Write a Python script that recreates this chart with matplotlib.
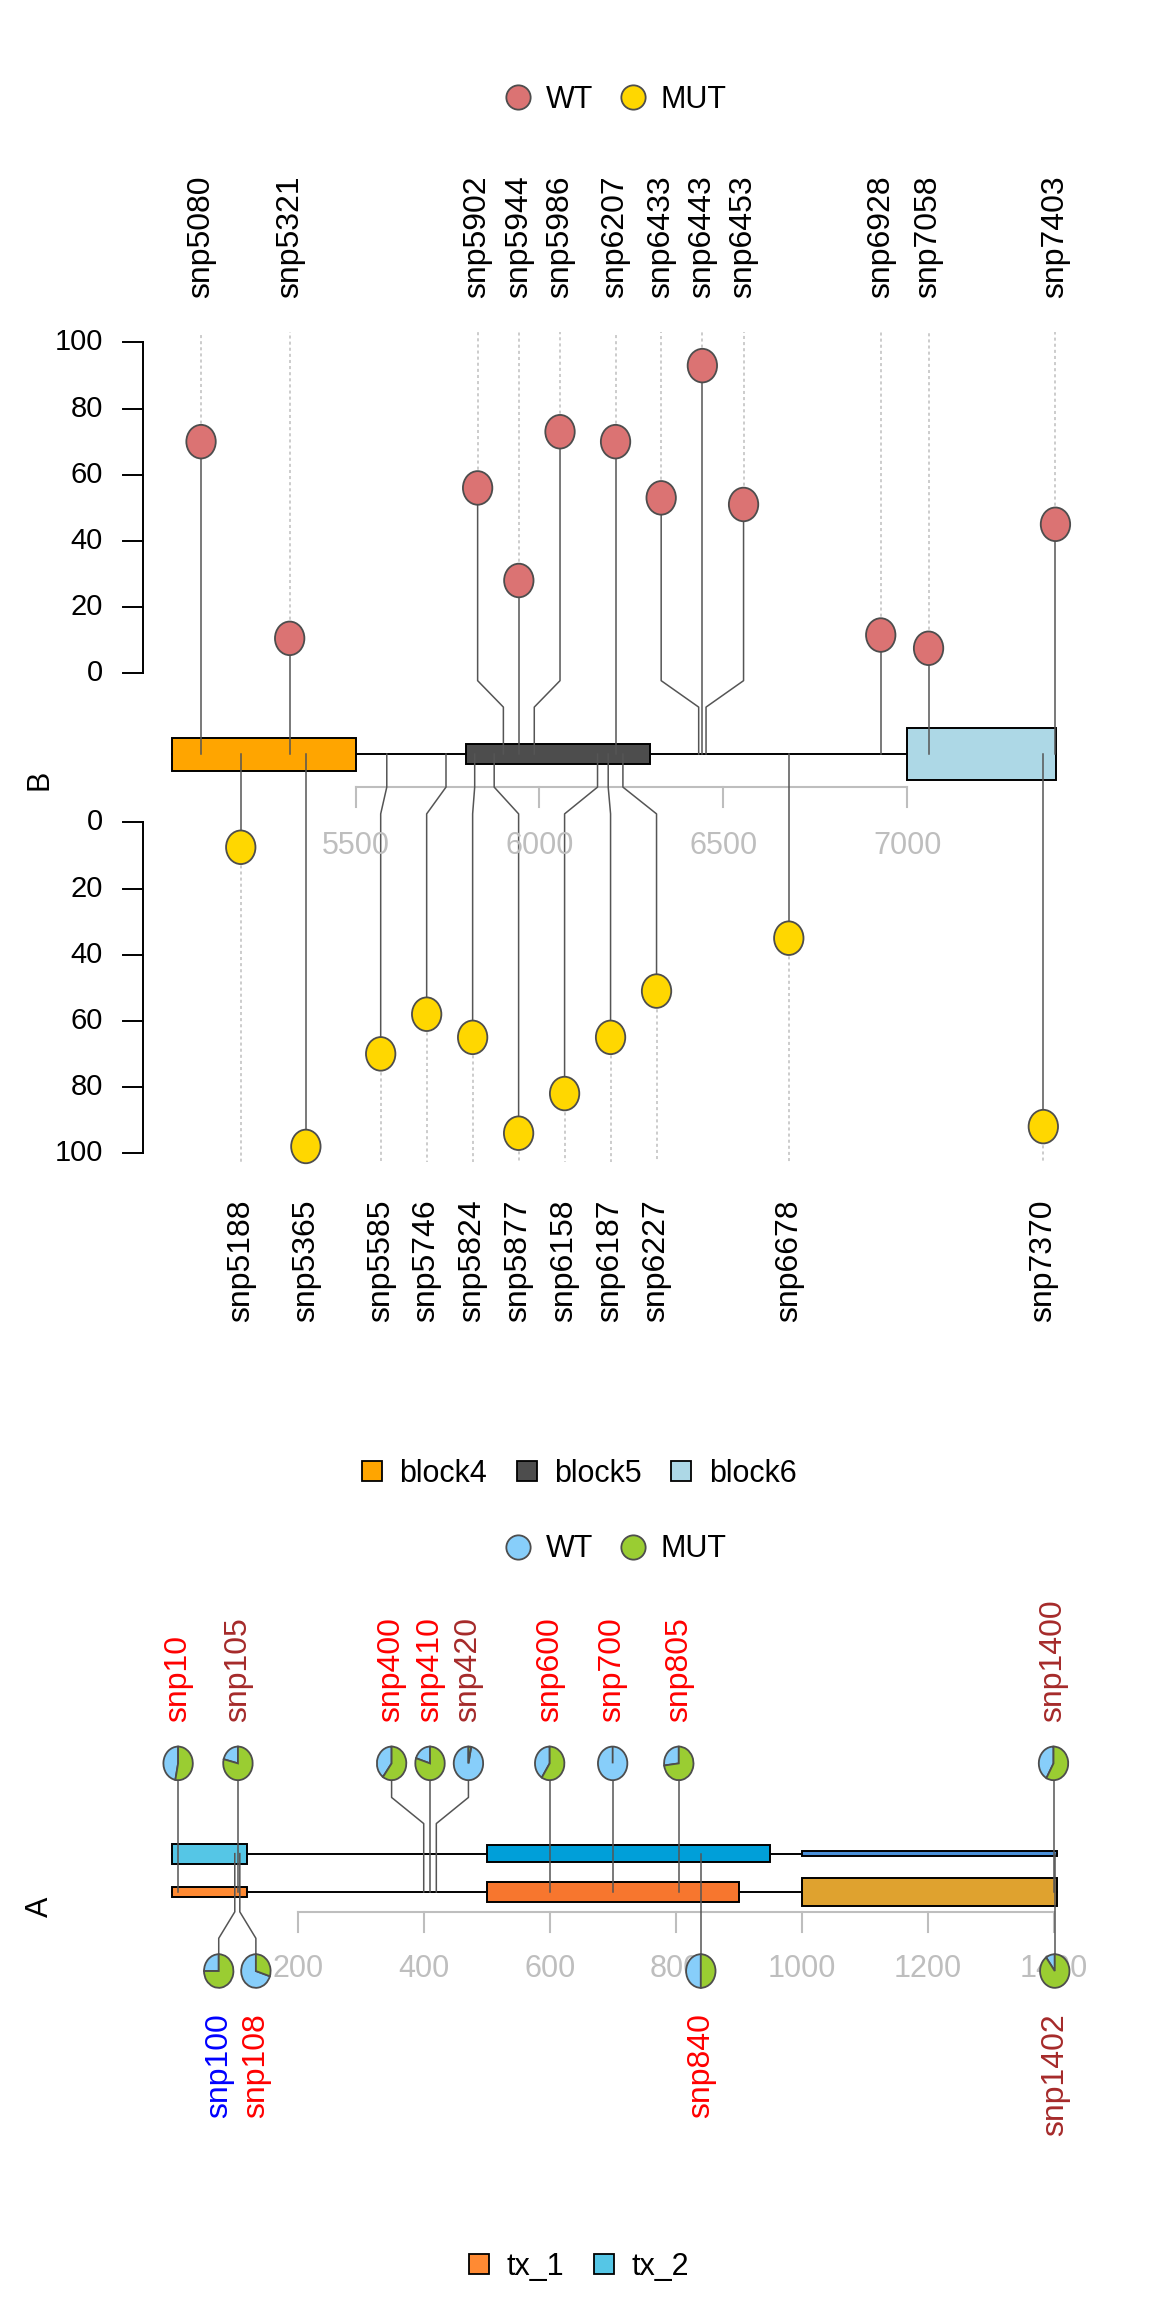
import matplotlib
matplotlib.use("Agg")
import matplotlib.pyplot as plt
from matplotlib.patches import Rectangle, Ellipse, Wedge
from matplotlib.lines import Line2D
from matplotlib.transforms import Affine2D, ScaledTranslation, blended_transform_factory

plt.rcParams['font.family'] = ['Liberation Sans', 'DejaVu Sans']

# ---------------- panel B : blocks + two lollipop tracks ----------------
b_blocks = ['block4', 'block5', 'block6']
b_block_start = [5000, 5800, 7000]
b_block_end = [5500, 6300, 7405]

wt_pos = [5080, 5321, 5902, 5944, 5986, 6207, 6433, 6443, 6453, 6928, 7058, 7403]
wt_val = [70, 10.5, 56, 28, 73, 70, 53, 93, 51, 11.5, 7.5, 45]

mut_pos = [5188, 5365, 5585, 5746, 5824, 5877, 6158, 6187, 6227, 6678, 7370]
mut_val = [7.5, 98, 70, 58, 65, 94, 82, 65, 51, 35, 92]

b_xticks = [5500, 6000, 6500, 7000]
b_yticks = [0, 20, 40, 60, 80, 100]

# ---------------- panel A : two transcripts + pie lollipops ----------------
tx_names = ['tx_1', 'tx_2']
tx1_start = [1, 500, 1000]
tx1_end = [120, 900, 1405]
tx2_start = [1, 500, 1000]
tx2_end = [120, 950, 1405]

a_up_pos = [10, 105, 400, 410, 420, 600, 700, 805, 1400]
a_up_wt = [47, 21, 40, 20, 97, 41, 100, 27, 42]
a_up_mut = [53, 79, 60, 80, 3, 59, 0, 73, 58]
a_up_lab_col = ['red', 'brown', 'red', 'red', 'brown', 'red', 'red', 'red', 'brown']

a_dn_pos = [100, 108, 840, 1402]
a_dn_wt = [25, 70, 50, 10]
a_dn_mut = [75, 30, 50, 90]
a_dn_lab_col = ['blue', 'red', 'red', 'brown']

a_xticks = [200, 400, 600, 800, 1000, 1200, 1400]

# ---------------- styles ----------------
block_col = ['#FFA500', '#4D4D4D', '#ADD8E6']
block_h = [10, 6, 16]
tx1_col = ['#FF8A33', '#F7762E', '#DFA22F']
tx1_h = [3.2, 6.0, 8.5]
tx2_col = ['#55C6E6', '#009FD9', '#4A90D9']
tx2_h = [6.1, 5.0, 1.7]
WT_B, MUT_B = '#DB7373', '#FFD700'
WT_A, MUT_A = '#87CEFA', '#9ACD32'
STEM = '#555555'
EDGE = '#4D4D4D'
AXGRAY = '#BEBEBE'
FS = 22
LAB_FS = 23
RX, RY = 14.7, 16.8   # lollipop head half-width / half-height in pixels


def spread(pos, gap):
    # push overlapping labels apart, each cluster centred on its mean
    groups = [[p] for p in pos]

    def place(g):
        m = sum(g) / len(g)
        return [m + (i - (len(g) - 1) / 2) * gap for i in range(len(g))]

    merged = True
    while merged:
        merged = False
        for i in range(len(groups) - 1):
            if place(groups[i])[-1] + gap > place(groups[i + 1])[0]:
                groups[i] += groups.pop(i + 1)
                merged = True
                break
    out = []
    for g in groups:
        out += place(g)
    return out


def head(ax, x, y, color):
    ax.add_patch(Ellipse((0, 0), 2 * RX, 2 * RY, facecolor=color, edgecolor=EDGE,
                         lw=1.3, zorder=5, transform=ScaledTranslation(x, y, ax.transData)))


def pie(ax, x, y, wt, mut):
    tr = Affine2D().scale(RX, RY) + ScaledTranslation(x, y, ax.transData)
    a = 90 + 360 * wt / (wt + mut)
    ax.add_patch(Wedge((0, 0), 1, 90, a, facecolor=WT_A, edgecolor=EDGE, lw=1.3,
                       zorder=5, transform=tr))
    ax.add_patch(Wedge((0, 0), 1, a, 450, facecolor=MUT_A, edgecolor=EDGE, lw=1.3,
                       zorder=5, transform=tr))


fig = plt.figure(figsize=(11.52, 23.04), dpi=100)

# ===================== panel B =====================
axB = fig.add_axes([0, 1 - 1400 / 2304, 1, 1400 / 2304])
axB.set_xlim(4533.4, 7665.5)
axB.set_ylim(-195.4, 228.1)
axB.axis('off')

top0, bot0 = 24.5, -20.7   # value 0 of the upper / lower track

axB.plot([b_block_start[0], b_block_end[-1]], [0, 0], color='black', lw=1.4, zorder=1)
for s, e, c, h in zip(b_block_start, b_block_end, block_col, block_h):
    axB.add_patch(Rectangle((s, -h / 2), e - s, h, facecolor=c, edgecolor='black',
                            lw=1.4, zorder=2))

# upper track (WT)
lx = spread(wt_pos, 112)
for g, x, v in zip(wt_pos, lx, wt_val):
    y = top0 + v
    axB.plot([g, g, x, x], [0, 14.2, 22.2, y], color=STEM, lw=1.1, zorder=3)
    axB.plot([x, x], [y, 127.6], color=AXGRAY, lw=1.1, ls=(0, (2, 2)), zorder=1)
    head(axB, x, y, WT_B)
    axB.text(x, 138.1, f"snp{g}", rotation=90, ha='center', va='bottom', fontsize=LAB_FS)

# lower track (MUT)
lx = spread(mut_pos, 125)
for g, x, v in zip(mut_pos, lx, mut_val):
    y = bot0 - v
    axB.plot([g, g, x, x], [0, -10, -18.1, y], color=STEM, lw=1.1, zorder=3)
    axB.plot([x, x], [y, -123.4], color=AXGRAY, lw=1.1, ls=(0, (2, 2)), zorder=1)
    head(axB, x, y, MUT_B)
    axB.text(x, -134.8, f"snp{g}", rotation=90, ha='center', va='top', fontsize=LAB_FS)

# genomic axis
axB.plot([b_xticks[0], b_xticks[-1]], [-10, -10], color=AXGRAY, lw=1.5, zorder=0)
for t in b_xticks:
    axB.plot([t, t], [-10, -16], color=AXGRAY, lw=1.5, zorder=0)
    axB.text(t, -27.7, str(t), color=AXGRAY, ha='center', va='center', fontsize=FS)

# score axes
trB = blended_transform_factory(axB.transAxes, axB.transData)
ax_x, tick_len, lab_x = 143 / 1152, 20 / 1152, 103 / 1152
for base, sign in [(top0, 1), (bot0, -1)]:
    axB.plot([ax_x, ax_x], [base, base + sign * 100], color='black', lw=1.4,
             transform=trB, clip_on=False)
    for t in b_yticks:
        yy = base + sign * t
        axB.plot([ax_x - tick_len, ax_x], [yy, yy], color='black', lw=1.4, transform=trB)
        axB.text(lab_x, yy, str(t), transform=trB, ha='right', va='center', fontsize=21)
axB.text(40 / 1152, -7.9, 'B', transform=trB, rotation=90, ha='center', va='center',
         fontsize=FS)

# ===================== panel A =====================
axA = fig.add_axes([0, 0, 1, 904 / 2304])
axA.set_xlim(-272.8, 1556.4)
axA.set_ylim(-124.6, 148.8)
axA.axis('off')

tx1_y, tx2_y = 0, 11.6
for starts, ends, cols, hs, ty in [(tx1_start, tx1_end, tx1_col, tx1_h, tx1_y),
                                   (tx2_start, tx2_end, tx2_col, tx2_h, tx2_y)]:
    axA.plot([starts[0], ends[-1]], [ty, ty], color='black', lw=1.4, zorder=1)
    for s, e, c, h in zip(starts, ends, cols, hs):
        axA.add_patch(Rectangle((s, ty - h / 2), e - s, h, facecolor=c, edgecolor='black',
                                lw=1.4, zorder=2))

lx = spread(a_up_pos, 61)
for g, x, w, m, c in zip(a_up_pos, lx, a_up_wt, a_up_mut, a_up_lab_col):
    axA.plot([g, g, x, x], [tx1_y, 20.7, 28.6, 38.9], color=STEM, lw=1.1, zorder=3)
    pie(axA, x, 38.9, w, m)
    axA.text(x, 51.3, f"snp{g}", rotation=90, ha='center', va='bottom', fontsize=LAB_FS,
             color=c)

lx = spread(a_dn_pos, 59)
for g, x, w, m, c in zip(a_dn_pos, lx, a_dn_wt, a_dn_mut, a_dn_lab_col):
    axA.plot([g, g, x, x], [tx2_y, -6.0, -14.0, -23.9], color=STEM, lw=1.1, zorder=3)
    pie(axA, x, -23.9, w, m)
    axA.text(x, -36.7, f"snp{g}", rotation=90, ha='center', va='top', fontsize=LAB_FS,
             color=c)

axA.plot([a_xticks[0], a_xticks[-1]], [-6, -6], color=AXGRAY, lw=1.5, zorder=0)
for t in a_xticks:
    axA.plot([t, t], [-6, -12], color=AXGRAY, lw=1.5, zorder=0)
    axA.text(t, -23.3, str(t), color=AXGRAY, ha='center', va='center', fontsize=FS,
             zorder=1)
trA = blended_transform_factory(axA.transAxes, axA.transData)
axA.text(40 / 1152, -4.5, 'A', transform=trA, rotation=90, ha='center', va='center',
         fontsize=FS)

# ===================== legends =====================
leg_kw = dict(loc='center', frameon=False, fontsize=FS, handlelength=0.8,
              handletextpad=0.5, columnspacing=0.9, borderpad=0)


def dots(cols):
    return [Line2D([], [], ls='', marker='o', markersize=17.5, markerfacecolor=c,
                   markeredgecolor=EDGE, markeredgewidth=1.3) for c in cols]


def squares(cols):
    return [Line2D([], [], ls='', marker='s', markersize=15, markerfacecolor=c,
                   markeredgecolor='black', markeredgewidth=1.3) for c in cols]


fig.legend(dots([WT_B, MUT_B]), ['WT', 'MUT'], ncol=2,
           bbox_to_anchor=(0.5347, 0.9566), **leg_kw)
fig.legend(squares(block_col), b_blocks, ncol=3,
           bbox_to_anchor=(0.5017, 0.3602), **leg_kw)
fig.legend(dots([WT_A, MUT_A]), ['WT', 'MUT'], ncol=2,
           bbox_to_anchor=(0.5347, 0.3275), **leg_kw)
fig.legend(squares([tx1_col[0], tx2_col[0]]), tx_names, ncol=2,
           bbox_to_anchor=(0.5013, 0.016), **leg_kw)

fig.savefig('out.png', dpi=100)
